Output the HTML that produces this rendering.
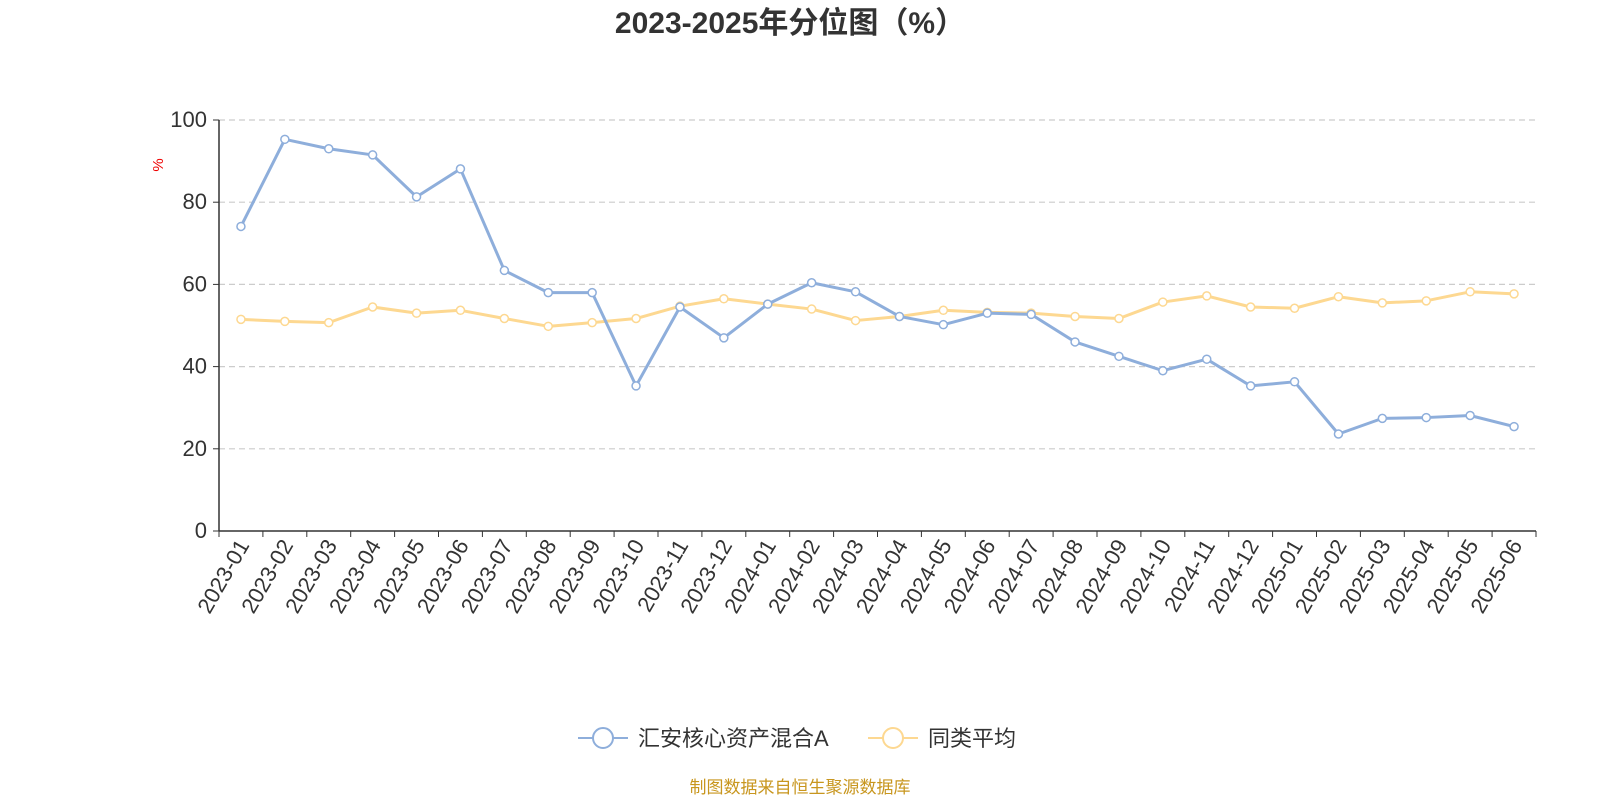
<!DOCTYPE html>
<html><head><meta charset="utf-8"><style>
body{margin:0;background:#fff;font-family:"Liberation Sans","Noto Sans CJK SC",sans-serif;}
svg text{font-family:"Liberation Sans","Noto Sans CJK SC",sans-serif;}
</style></head><body>
<svg id="chart" width="1600" height="800" xmlns="http://www.w3.org/2000/svg">
<text x="790" y="33" text-anchor="middle" font-size="30" font-weight="bold" fill="#333">2023-2025年分位图（%）</text>
<text x="163" y="165" font-size="15" fill="#e00" transform="rotate(-90 163 165)" text-anchor="middle">%</text>
<g id="grid"></g><g id="axes"></g><g id="series"></g>
<g>
<g>
<line x1="578" y1="738" x2="628" y2="738" stroke="#8eaedb" stroke-width="2"/>
<circle cx="603" cy="738" r="10" fill="#fff" stroke="#8eaedb" stroke-width="2"/>
<text x="638" y="746" font-size="22" fill="#333">汇安核心资产混合A</text></g>
<g>
<line x1="868" y1="738" x2="918" y2="738" stroke="#fdd891" stroke-width="2"/>
<circle cx="893" cy="738" r="10" fill="#fff" stroke="#fdd891" stroke-width="2"/>
<text x="928" y="746" font-size="22" fill="#333">同类平均</text></g>
</g>
<text x="800" y="793" text-anchor="middle" font-size="17" fill="#c8961e">制图数据来自恒生聚源数据库</text>
</svg>
<script>
const categories=["2023-01","2023-02","2023-03","2023-04","2023-05","2023-06","2023-07","2023-08","2023-09","2023-10","2023-11","2023-12","2024-01","2024-02","2024-03","2024-04","2024-05","2024-06","2024-07","2024-08","2024-09","2024-10","2024-11","2024-12","2025-01","2025-02","2025-03","2025-04","2025-05","2025-06"];
const fundValues=[74.1,95.3,93.0,91.5,81.3,88.1,63.4,58,58,35.3,54.5,47,55.2,60.4,58.2,52.2,50.2,53,52.7,46,42.5,39,41.8,35.3,36.3,23.6,27.4,27.6,28.1,25.4];
const avgValues=[51.5,51,50.7,54.5,53,53.7,51.7,49.8,50.7,51.7,54.7,56.5,55.2,54,51.2,52.2,53.7,53.2,53,52.2,51.7,55.7,57.2,54.5,54.2,57,55.5,56,58.2,57.7];
const yTicks=[0,20,40,60,80,100];
const NS="http://www.w3.org/2000/svg";
const X0=219,X1=1536,Y0=531,Y1=120;
const bw=(X1-X0)/categories.length;
const xc=i=>X0+bw*(i+0.5);
const ys=v=>Y0-(v/100)*(Y0-Y1);
function mk(tag,attrs,parent,txt){const e=document.createElementNS(NS,tag);for(const k in attrs)e.setAttribute(k,attrs[k]);if(txt!==undefined)e.textContent=txt;parent.appendChild(e);return e;}
const grid=document.getElementById('grid'),axes=document.getElementById('axes'),series=document.getElementById('series');
yTicks.forEach(t=>{
  if(t>0){const l=mk('line',{x1:X0,x2:X1,y1:ys(t),y2:ys(t),stroke:'#ccc','stroke-dasharray':'6,4','stroke-width':1.2},grid);
  
  }
  const tk=mk('line',{x1:X0-6,x2:X0,y1:ys(t),y2:ys(t),stroke:'#333'},axes);
  
  
  const tx=mk('text',{x:X0-12,y:ys(t)+7,'text-anchor':'end','font-size':22,fill:'#333'},axes,String(t));
  
  
});
const ya=mk('line',{x1:X0,x2:X0,y1:Y1,y2:Y0,stroke:'#333','stroke-width':1.5},axes);


const xa=mk('line',{x1:X0,x2:X1,y1:Y0,y2:Y0,stroke:'#333','stroke-width':1.5},axes);


for(let i=0;i<=categories.length;i++){
  const tk=mk('line',{x1:X0+bw*i,x2:X0+bw*i,y1:Y0,y2:Y0+6,stroke:'#333'},axes);
  
  
}
categories.forEach((c,i)=>{
  const x=xc(i)+9,y=Y0+14;
  const t=mk('text',{x:x,y:y,'text-anchor':'end','font-size':22,fill:'#333',transform:`rotate(-60 ${x} ${y})`},axes,c);
  
  
});
function drawSeries(vals,color,name){
  const g=mk('g',{},series);
  
  
  const p=mk('polyline',{points:vals.map((v,i)=>xc(i)+','+ys(v)).join(' '),fill:'none',stroke:color,'stroke-width':3,'stroke-linejoin':'round'},g);
  
  
  vals.forEach((v,i)=>{
    const c=mk('circle',{cx:xc(i),cy:ys(v),r:4,fill:'#fff',stroke:color,'stroke-width':1.5},g);
    
    
  });
}
drawSeries(avgValues,'#fdd891','average-series');
drawSeries(fundValues,'#8eaedb','fund-series');
</script>
</body></html>
